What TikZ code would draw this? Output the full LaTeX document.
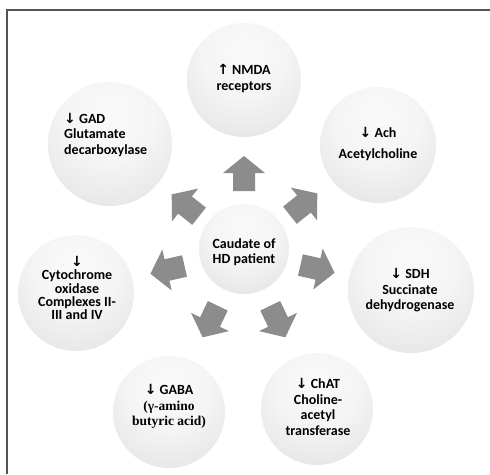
\documentclass[tikz,border=0pt]{standalone}
\usepackage{fontspec}
\setmainfont{Carlito}
\newfontfamily\arrfont{DejaVu Sans}
\newfontfamily\serifb{Liberation Serif}
\pgfdeclareradialshading{softsphere}{\pgfpoint{0bp}{14bp}}{color(0bp)=(black!2); color(18bp)=(black!4); color(38bp)=(black!11); color(55bp)=(black!20); color(64bp)=(black!27); color(72bp)=(black!32)}
\definecolor{arrowgray}{RGB}{140,140,140}
\definecolor{framegray}{RGB}{85,85,85}
\newcommand\dn{{\arrfont\bfseries\fontsize{14}{14}\selectfont ↓}}
\newcommand\up{{\arrfont\bfseries\fontsize{14}{14}\selectfont ↑}}
\tikzset{
  bubble/.style={circle, shading=softsphere, shade, inner sep=0pt, minimum size=#1},
  label/.style={font=\bfseries\fontsize{14}{15.5}\selectfont, align=center, inner sep=0pt},
  blockarrow/.style={fill=arrowgray, draw=none}
}
\newcommand\barrow[3]{\fill[blockarrow, shift={(#1,#2)}, rotate=#3] (-18,-11) -- (0,-11) -- (0,-21) -- (17,0) -- (0,21) -- (0,11) -- (-18,11) -- cycle;}
\begin{document}
\begin{tikzpicture}[x=1pt,y=-1pt]
\useasboundingbox (0,0) rectangle (490,474);
\fill[white] (0,0) rectangle (490,474);
\draw[framegray, line width=1.6pt] (7,474) -- (7,10) -- (490,10);

% circles
\node[bubble=114pt] (nmda) at (244,80) {};
\node[bubble=116pt] (ach) at (378,145) {};
\node[bubble=126pt] (sdh) at (411,290) {};
\node[bubble=112pt] (chat) at (317,409) {};
\node[bubble=112pt] (gaba) at (169,412) {};
\node[bubble=116pt] (cyto) at (76,293) {};
\node[bubble=124pt] (gad) at (110,144) {};
\node[bubble=90pt] (core) at (244,249) {};

% arrows
\barrow{244}{173}{90}
\barrow{304}{204}{38.57}
\barrow{318}{269}{-12.86}
\barrow{278}{322}{-64.29}
\barrow{210}{322}{-115.71}
\barrow{167}{270}{-167.14}
\barrow{185}{205}{141.43}

% texts
\node[label] (tnmda) at (244,78.5) {\up\ NMDA\\receptors};
\node[label] (tach) at (378,144) {\dn\ Ach\\[6pt]Acetylcholine};
\node[label, align=left, anchor=west] (tgad) at (64,134.5) {\dn\ GAD\\Glutamate\\decarboxylase};
\node[label] (tsdh) at (410,290.5) {\dn\ SDH\\Succinate\\dehydrogenase};
\node[label, font=\bfseries\fontsize{14}{13.2}\selectfont] (tcyto) at (77,288) {\dn\\Cytochrome\\oxidase\\Complexes II-\\III and IV};
\node[label] (tcore) at (244,252) {Caudate of\\HD patient};
\node[label] (tgaba) at (169,406.5) {\dn\ GABA\\{\serifb\bfseries\fontsize{13.5}{15.5}\selectfont (γ-amino}\\{\serifb\bfseries\fontsize{13.5}{15.5}\selectfont butyric acid)}};
\node[label] (tchat) at (318,407) {\dn\ ChAT\\Choline-\\acetyl\\transferase};
\end{tikzpicture}
\end{document}
